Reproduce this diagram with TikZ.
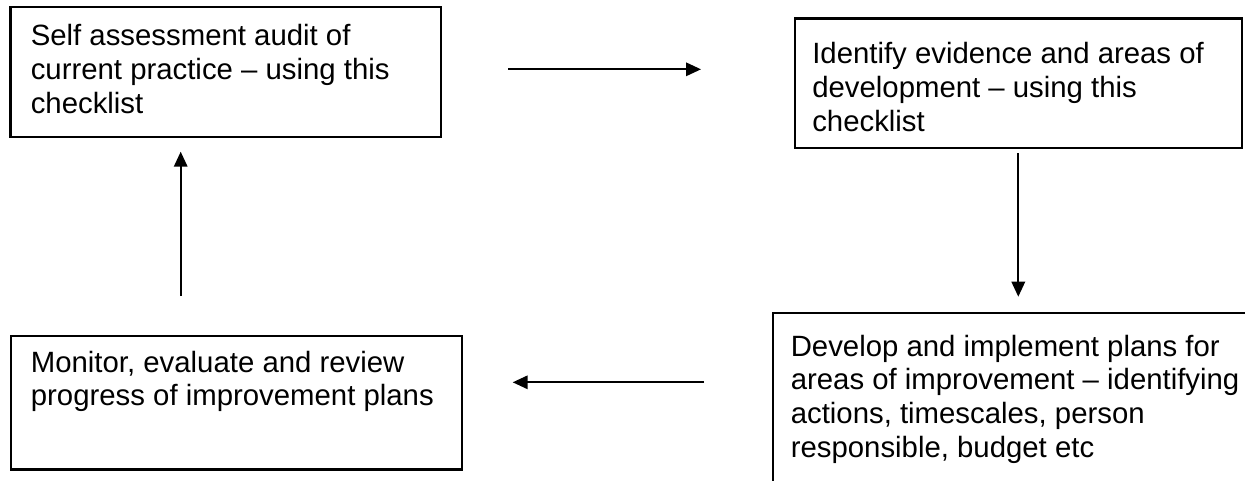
\documentclass[tikz,border=0pt]{standalone}
\usepackage{fontspec}
\setmainfont{Liberation Sans}
\usetikzlibrary{positioning,arrows.meta}

\begin{document}
\begin{tikzpicture}[box/.style={shape=rectangle,draw=black,line width=1.2pt},
	txt/.style={align=left,inner sep=0pt,font=\fontsize{16.7pt}{19.3pt}\selectfont},
	flow/.style={-{Triangle[length=0.3cm,width=0.27cm]},line width=1pt}]
	\useasboundingbox (0,0) rectangle (24.9,-9.6);
	\clip (0,0) rectangle (24.9,-9.6);
	\node[box,minimum width=8.61cm,minimum height=2.6cm] (A) at (4.515,-1.44) {};
	\node[box,minimum width=8.94cm,minimum height=2.59cm] (I) at (20.37,-1.665) {};
	\node[box,minimum width=9.74cm,minimum height=3.64cm] (D) at (20.33,-8.08) {};
	\node[box,minimum width=9.03cm,minimum height=2.67cm] (M) at (4.727,-8.055) {};
	\node[txt,below right=0.36cm and 0.42cm of A.north west] (At) {Self assessment audit of\\current practice -- using this\\checklist};
	\node[txt,below right=0.49cm and 0.36cm of I.north west] (It) {Identify evidence and areas of\\development -- using this\\checklist};
	\node[txt,below right=0.45cm and 0.37cm of D.north west] (Dt) {Develop and implement plans for\\areas of improvement -- identifying\\actions, timescales, person\\responsible, budget etc};
	\node[txt,below right=0.31cm and 0.42cm of M.north west] (Mt) {Monitor, evaluate and review\\progress of improvement plans};
	\coordinate (A1) at (10.16,-1.386);
	\coordinate (I1) at (14.02,-1.386);
	\coordinate (I2) at (20.366,-3.066);
	\coordinate (D1) at (20.366,-5.934);
	\coordinate (D2) at (14.08,-7.646);
	\coordinate (M1) at (10.254,-7.646);
	\coordinate (M2) at (3.614,-5.92);
	\coordinate (A2) at (3.614,-3.034);
	\path [flow] (A1) edge (I1);
	\path [flow] (I2) edge (D1);
	\path [flow] (D2) edge (M1);
	\path [flow] (M2) edge (A2);
\end{tikzpicture}
\end{document}
